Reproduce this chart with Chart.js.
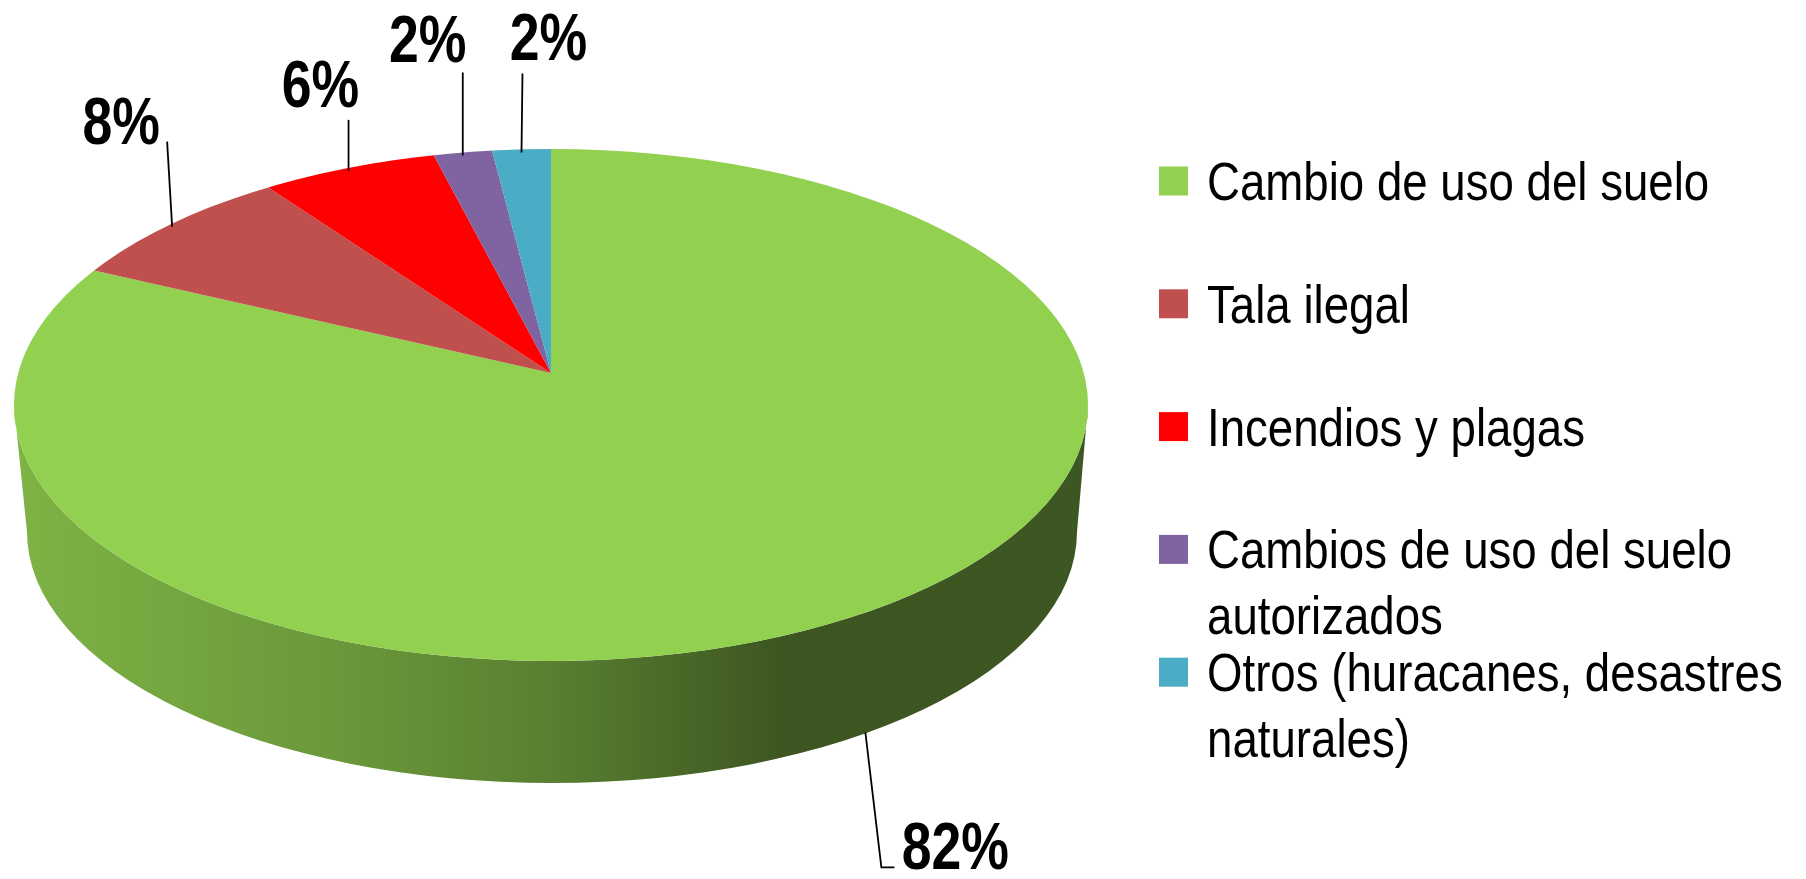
<!DOCTYPE html>
<html><head><meta charset="utf-8">
<script src="https://cdn.jsdelivr.net/npm/chart.js@4.4.1/dist/chart.umd.min.js"></script>
<style>html,body{margin:0;padding:0;background:#fff;overflow:hidden}canvas{display:block}</style>
</head><body>
<canvas id="c" width="1806" height="879"></canvas>
<script>
// ---- data ----
const categories = ['Cambio de uso del suelo', 'Tala ilegal', 'Incendios y plagas', 'Cambios de uso del suelo autorizados', 'Otros (huracanes, desastres naturales)'];
const shares = [82, 8, 6, 2, 2];
const shareLabels = ['82%', '8%', '6%', '2%', '2%'];
const sliceColors = ['#92D050', '#C0504D', '#FF0000', '#8064A2', '#4BACC6'];

// ---- layout (view geometry of the tilted pie) ----
const view = { ax: 551, ay: 373, ecx: 551, ecy: 405, rx: 537, ry: 256, bcx: 552, bcy: 532, brx: 525, bry: 251, R: 640 };
const labelLayout = [
  { start: [3, -2], leader: [[19, 133], [32, 133]], text: [93, 135] },
  { start: [0, 3], leader: [[-5, -82]], text: [-51, -80] },
  { start: [0, 3], leader: [[0, -48]], text: [-28, -61] },
  { start: [0, 3], leader: [[0, -80]], text: [-35, -90.5] },
  { start: [0, 3], leader: [[1, -76]], text: [27, -89] }
];
const labelFont = 'bold 67px "Liberation Sans", Arial, sans-serif';
const labelSx = 0.8;
const legendLayout = { boxX: 1159, boxSize: 29, textX: 1207, firstBaseline: 200, itemStep: 122.8, lineStep: 65.7, maxWidth: 585,
  font: '54px "Liberation Sans", Arial, sans-serif', sx: 0.845 };
const wallShade = [[0, 0.86], [0.3, 0.73], [0.5, 0.61], [0.72, 0.41], [1, 0.42]];

const K = view.ry / view.rx;
function edgePoint(theta) {
  const dx = Math.cos(theta), dy = Math.sin(theta);
  const cx = view.ecx - view.ax, cy = (view.ecy - view.ay) / K;
  const b = dx * cx + dy * cy;
  const t = b + Math.sqrt(b * b - (cx * cx + cy * cy) + view.rx * view.rx);
  return { x: view.ax + t * dx, y: view.ay + K * t * dy };
}
function phiOf(p) { return Math.atan2((p.y - view.ecy) / view.ry, (p.x - view.ecx) / view.rx); }
function norm(a) { const T = Math.PI * 2; return ((a % T) + T) % T; }
function hexRgb(h) { const n = parseInt(h.slice(1), 16); return [(n >> 16) & 255, (n >> 8) & 255, n & 255]; }
function shade(h, f) { const c = hexRgb(h); return 'rgb(' + c.map(v => Math.round(v * f)).join(',') + ')'; }

function narrowText(ctx, text, x, y, font, sx, align) {
  ctx.save();
  ctx.font = font; ctx.textAlign = align; ctx.textBaseline = 'alphabetic'; ctx.fillStyle = '#000';
  ctx.translate(x, y); ctx.scale(sx, 1); ctx.fillText(text, 0, 0);
  ctx.restore();
}
function narrowWidth(ctx, text, font, sx) { ctx.save(); ctx.font = font; const w = ctx.measureText(text).width * sx; ctx.restore(); return w; }

const pie3d = {
  id: 'pie3d',
  beforeDatasetsDraw(chart) {
    const ctx = chart.ctx;
    const meta = chart.getDatasetMeta(0);
    const colors = chart.data.datasets[0].backgroundColor;
    // side walls
    meta.data.forEach((arc, i) => {
      const p = arc.getProps(['startAngle', 'endAngle'], true);
      let a = norm(phiOf(edgePoint(p.startAngle)));
      let b = norm(phiOf(edgePoint(p.endAngle)));
      if (b <= a) b += Math.PI * 2;
      for (const off of [0, Math.PI * 2]) {
        const lo = Math.max(a, off), hi = Math.min(b, off + Math.PI);
        if (hi <= lo) continue;
        const l = lo - off, h = hi - off;
        const g = ctx.createLinearGradient(view.ecx - view.rx, 0, view.ecx + view.rx, 0);
        wallShade.forEach(([s, f]) => g.addColorStop(s, shade(colors[i], f)));
        ctx.beginPath();
        ctx.ellipse(view.ecx, view.ecy, view.rx, view.ry, 0, l, h, false);
        ctx.lineTo(view.bcx + view.brx * Math.cos(h), view.bcy + view.bry * Math.sin(h));
        ctx.ellipse(view.bcx, view.bcy, view.brx, view.bry, 0, h, l, true);
        ctx.closePath();
        ctx.fillStyle = g;
        ctx.fill();
      }
    });
    // tilt the top face
    const a0 = meta.data[0].getProps(['x', 'y', 'outerRadius'], true);
    const s = view.R / a0.outerRadius;
    ctx.save();
    ctx.beginPath();
    ctx.ellipse(view.ecx, view.ecy, view.rx, view.ry, 0, 0, Math.PI * 2);
    ctx.clip();
    ctx.translate(view.ax, view.ay);
    ctx.scale(s, s * K);
    ctx.translate(-a0.x, -a0.y);
  },
  afterDatasetsDraw(chart) {
    const ctx = chart.ctx;
    ctx.restore();
    const meta = chart.getDatasetMeta(0);
    // data labels with leader lines
    meta.data.forEach((arc, i) => {
      const p = arc.getProps(['startAngle', 'endAngle'], true);
      const mid = (p.startAngle + p.endAngle) / 2;
      let e = edgePoint(mid);
      const phi = phiOf(e);
      if (Math.sin(phi) > 0) e = { x: view.bcx + view.brx * Math.cos(phi), y: view.bcy + view.bry * Math.sin(phi) };
      const L = labelLayout[i];
      ctx.save();
      ctx.strokeStyle = '#000'; ctx.lineWidth = 1.8;
      ctx.beginPath();
      ctx.moveTo(e.x + L.start[0], e.y + L.start[1]);
      L.leader.forEach(q => ctx.lineTo(e.x + q[0], e.y + q[1]));
      ctx.stroke();
      ctx.restore();
      narrowText(ctx, chart.data.datasets[0].labelsText[i], e.x + L.text[0], e.y + L.text[1], labelFont, labelSx, 'center');
    });
    // legend
    const lg = legendLayout;
    const colors = chart.data.datasets[0].backgroundColor;
    chart.data.labels.forEach((label, i) => {
      const base = lg.firstBaseline + lg.itemStep * i;
      ctx.fillStyle = colors[i];
      ctx.fillRect(lg.boxX, base - 19 - lg.boxSize / 2, lg.boxSize, lg.boxSize);
      const words = label.split(' ');
      const lines = [];
      let cur = '';
      words.forEach(w => {
        const t = cur ? cur + ' ' + w : w;
        if (cur && narrowWidth(ctx, t, lg.font, lg.sx) > lg.maxWidth) { lines.push(cur); cur = w; } else cur = t;
      });
      if (cur) lines.push(cur);
      lines.forEach((ln, j) => narrowText(ctx, ln, lg.textX, base + j * lg.lineStep, lg.font, lg.sx, 'left'));
    });
  }
};

new Chart(document.getElementById('c'), {
  type: 'pie',
  data: {
    labels: categories,
    datasets: [{ data: shares, labelsText: shareLabels, backgroundColor: sliceColors, borderWidth: 0, clip: false, hoverOffset: 0 }]
  },
  options: {
    responsive: false,
    animation: false,
    events: [],
    plugins: { legend: { display: false }, tooltip: { enabled: false } }
  },
  plugins: [pie3d]
});
</script>
</body></html>
